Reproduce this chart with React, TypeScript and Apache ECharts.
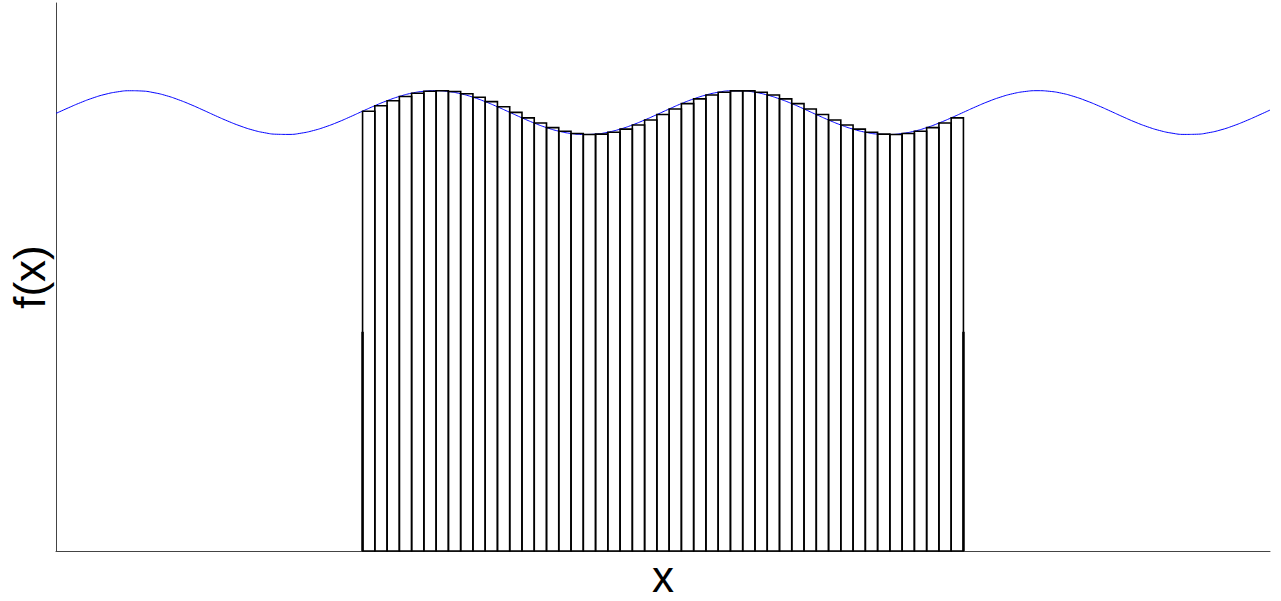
import React, { useEffect, useRef } from "react";
import * as echarts from "echarts";

// f(x) sampled at x = 0, 1, 2, ..., 99
const curveY: number[] = [
  79.85, 80.86, 81.82, 82.66, 83.33, 83.78, 83.99, 83.94, 83.63, 83.09,
  82.34, 81.45, 80.46, 79.44, 78.46, 77.58, 76.85, 76.33, 76.05, 76.02,
  76.25, 76.73, 77.42, 78.27, 79.24, 80.26, 81.26, 82.17, 82.95, 83.54,
  83.89, 84.0, 83.84, 83.44, 82.81, 82.0, 81.06, 80.05, 79.04, 78.09,
  77.26, 76.61, 76.19, 76.01, 76.08, 76.42, 76.98, 77.74, 78.65, 79.64,
  80.66, 81.64, 82.5, 83.21, 83.71, 83.97, 83.97, 83.71, 83.21, 82.5,
  81.64, 80.66, 79.64, 78.65, 77.74, 76.98, 76.42, 76.08, 76.01, 76.19,
  76.61, 77.26, 78.09, 79.04, 80.05, 81.06, 82.0, 82.81, 83.44, 83.84,
  84.0, 83.89, 83.54, 82.95, 82.17, 81.26, 80.26, 79.24, 78.27, 77.42,
  76.73, 76.25, 76.02, 76.05, 76.33, 76.85, 77.58, 78.46, 79.44, 80.46,
];

// Left-endpoint rectangles of unit width, the first starting at x = 25
const barStart = 25;
const barHeights: number[] = [
  80.26, 81.26, 82.17, 82.95, 83.54, 83.89, 84.0, 83.84, 83.44, 82.81,
  82.0, 81.06, 80.05, 79.04, 78.09, 77.26, 76.61, 76.19, 76.01, 76.08,
  76.42, 76.98, 77.74, 78.65, 79.64, 80.66, 81.64, 82.5, 83.21, 83.71,
  83.97, 83.97, 83.71, 83.21, 82.5, 81.64, 80.66, 79.64, 78.65, 77.74,
  76.98, 76.42, 76.08, 76.01, 76.19, 76.61, 77.26, 78.09, 79.04,
];

// Integration limits a and b, marked with short vertical strokes
const limitX: number[] = [25, 74];
const limitHeight = 40;

const xMin = 0;
const xMax = 99;
const yMin = 0;
const yMax = 100;

export default function App() {
  const ref = useRef<HTMLDivElement>(null);

  useEffect(() => {
    if (!ref.current) return;
    const chart = echarts.init(ref.current, null, { renderer: "svg" });

    chart.setOption({
      animation: false,
      backgroundColor: "#ffffff",
      grid: { left: 56, right: 11, top: 3, bottom: 50, outerBoundsMode: "none", containLabel: false },
      xAxis: {
        type: "value",
        min: xMin,
        max: xMax,
        name: "x",
        nameLocation: "middle",
        nameGap: 7,
        nameTextStyle: {
          fontFamily: "Liberation Sans",
          fontSize: 44,
          lineHeight: 36,
          color: "#000",
          verticalAlign: "top",
        },
        axisLine: { show: true, onZero: false, lineStyle: { color: "#444", width: 1 } },
        axisTick: { show: false },
        axisLabel: { show: false },
        splitLine: { show: false },
      },
      yAxis: {
        type: "value",
        min: yMin,
        max: yMax,
        name: "f(x)",
        nameLocation: "middle",
        nameGap: 8,
        nameTextStyle: {
          fontFamily: "Liberation Sans",
          fontSize: 44,
          lineHeight: 38,
          color: "#000",
        },
        axisLine: { show: true, onZero: false, lineStyle: { color: "#444", width: 1 } },
        axisTick: { show: false },
        axisLabel: { show: false },
        splitLine: { show: false },
      },
      series: [
        {
          type: "line",
          data: curveY.map((y, i) => [i, y]),
          smooth: true,
          showSymbol: false,
          lineStyle: { color: "#0000ff", width: 1 },
          z: 2,
        },
        {
          type: "custom",
          data: barHeights.map((h, i) => [barStart + i, h]),
          renderItem: (_params: any, api: any) => {
            const x0 = api.value(0);
            const h = api.value(1);
            const p0 = api.coord([x0, 0]);
            const p1 = api.coord([x0 + 1, h]);
            return {
              type: "rect",
              shape: {
                x: p0[0],
                y: p1[1],
                width: p1[0] - p0[0],
                height: p0[1] - p1[1],
              },
              style: { fill: "none", stroke: "#000", lineWidth: 1.6 },
            };
          },
          z: 3,
        },
        {
          type: "custom",
          data: limitX.map((x) => [x, limitHeight]),
          renderItem: (_params: any, api: any) => {
            const p0 = api.coord([api.value(0), 0]);
            const p1 = api.coord([api.value(0), api.value(1)]);
            return {
              type: "line",
              shape: { x1: p0[0], y1: p0[1], x2: p1[0], y2: p1[1] },
              style: { stroke: "#000", lineWidth: 2.5 },
            };
          },
          z: 4,
        },
      ],
    });

    return () => chart.dispose();
  }, []);

  return (
    <div
      ref={ref}
      style={{ position: "fixed", left: 0, top: 0, width: 1281, height: 601, background: "#fff" }}
    />
  );
}
